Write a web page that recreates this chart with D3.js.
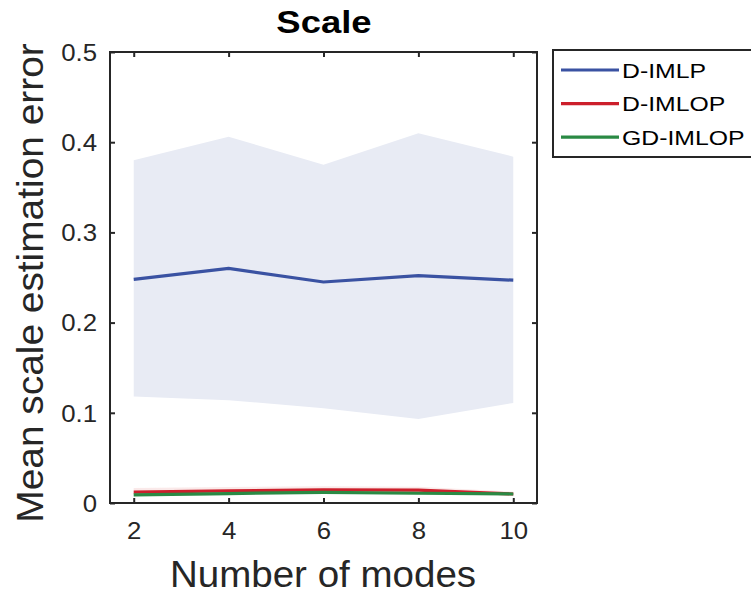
<!DOCTYPE html>
<html>
<head>
<meta charset="utf-8">
<script src="https://cdn.jsdelivr.net/npm/d3@7"></script>
<style>
  html, body { margin: 0; padding: 0; background: #fff; }
  svg { display: block; font-family: "Liberation Sans", Arial, sans-serif; }
</style>
</head>
<body>
<svg id="chart" width="751" height="595"></svg>
<script>
// Number of modes (x values)
const modes = [2, 4, 6, 8, 10];
const xTicks = [2, 4, 6, 8, 10];
const yTicks = [0, 0.1, 0.2, 0.3, 0.4, 0.5];

// Series: mean scale estimation error and spread band
const seriesNames = ["D-IMLP", "D-IMLOP", "GD-IMLOP"];
const dimlpMean  = [0.248, 0.260, 0.245, 0.252, 0.247];
const dimlpUpper = [0.380, 0.406, 0.375, 0.410, 0.384];
const dimlpLower = [0.118, 0.114, 0.105, 0.093, 0.111];

const dimlopMean  = [0.012, 0.0135, 0.0145, 0.0143, 0.0100];
const dimlopUpper = [0.0165, 0.0178, 0.0185, 0.0180, 0.0125];
const dimlopLower = [0.0080, 0.0095, 0.0105, 0.0105, 0.0080];

const gdimlopMean  = [0.0090, 0.0105, 0.0118, 0.0108, 0.0100];
const gdimlopUpper = [0.0105, 0.0120, 0.0130, 0.0122, 0.0110];
const gdimlopLower = [0.0075, 0.0090, 0.0105, 0.0095, 0.0090];

const colors = ["#3a52a2", "#cc1f2b", "#2a8a44"];
const bandColors = ["#e8ebf4", "#f9e3e3", "#e3f1e6"];

const svg = d3.select("#chart");
const plot = { left: 110, right: 537, top: 52, bottom: 503 };

const x = d3.scaleLinear().domain([1.5, 10.5]).range([plot.left, plot.right]);
const y = d3.scaleLinear().domain([0, 0.5]).range([plot.bottom, plot.top]);

// widen text horizontally along its baseline (wide sans face)
function widen(sel, k) {
  sel.each(function () {
    const len = this.getComputedTextLength();
    d3.select(this).attr("textLength", len * k).attr("lengthAdjust", "spacingAndGlyphs");
  });
}

const series = [
  { mean: dimlpMean, upper: dimlpUpper, lower: dimlpLower },
  { mean: dimlopMean, upper: dimlopUpper, lower: dimlopLower },
  { mean: gdimlopMean, upper: gdimlopUpper, lower: gdimlopLower }
];

const area = d3.area()
  .x((d, i) => x(modes[i]))
  .y0(d => y(d[0]))
  .y1(d => y(d[1]));
const line = d3.line()
  .x((d, i) => x(modes[i]))
  .y(d => y(d));

// shaded bands
series.forEach((s, k) => {
  svg.append("path")
    .datum(s.lower.map((v, i) => [v, s.upper[i]]))
    .attr("d", area)
    .attr("fill", bandColors[k])
    .attr("fill-opacity", k === 0 ? 1 : 0.8);
});

// mean lines
series.forEach((s, k) => {
  svg.append("path")
    .datum(s.mean)
    .attr("d", line)
    .attr("fill", "none")
    .attr("stroke", colors[k])
    .attr("stroke-width", 3.2);
});

// axes with inward ticks on all four sides
const axisColor = "#262626";
const tickLen = 5;
const fmtY = d => d === 0 ? "0" : d3.format(".1f")(d);

const gB = svg.append("g").attr("transform", `translate(0,${plot.bottom})`)
  .call(d3.axisBottom(x).tickValues(xTicks).tickSize(-tickLen).tickPadding(0));
const gT = svg.append("g").attr("transform", `translate(0,${plot.top})`)
  .call(d3.axisTop(x).tickValues(xTicks).tickSize(-tickLen).tickFormat(""));
const gL = svg.append("g").attr("transform", `translate(${plot.left},0)`)
  .call(d3.axisLeft(y).tickValues(yTicks).tickSize(-tickLen).tickPadding(13).tickFormat(fmtY));
const gR = svg.append("g").attr("transform", `translate(${plot.right},0)`)
  .call(d3.axisRight(y).tickValues(yTicks).tickSize(-tickLen).tickFormat(""));

[gB, gT, gL, gR].forEach(g => {
  g.select(".domain").remove();
  g.selectAll(".tick line").attr("stroke", axisColor).attr("stroke-width", 2);
  g.selectAll(".tick text")
    .attr("fill", "#262626")
    .style("font-size", "23px")
    .style("font-family", "'Liberation Sans', Arial, sans-serif");
});
gB.selectAll(".tick text").attr("y", 35.5).attr("dy", null);
gL.selectAll(".tick text").attr("dy", "0.36em");
widen(gB.selectAll(".tick text"), 1.12);
widen(gL.selectAll(".tick text"), 1.12);

svg.append("rect")
  .attr("x", plot.left).attr("y", plot.top)
  .attr("width", plot.right - plot.left).attr("height", plot.bottom - plot.top)
  .attr("fill", "none").attr("stroke", axisColor).attr("stroke-width", 2);

// title and axis labels
svg.append("text")
  .attr("x", 324).attr("y", 33)
  .attr("text-anchor", "middle")
  .style("font-size", "32px").style("font-weight", "bold")
  .attr("fill", "#000")
  .text("Scale")
  .call(widen, 1.14);

svg.append("text")
  .attr("x", 323).attr("y", 587)
  .attr("text-anchor", "middle")
  .style("font-size", "36px")
  .attr("fill", "#262626")
  .text("Number of modes")
  .call(widen, 1.07);

svg.append("text")
  .attr("transform", `translate(43,283) rotate(-90)`)
  .attr("text-anchor", "middle")
  .style("font-size", "37px")
  .attr("fill", "#262626")
  .text("Mean scale estimation error")
  .call(widen, 1.05);

// legend
const legend = svg.append("g").attr("transform", "translate(553,50)");
legend.append("rect")
  .attr("x", 0).attr("y", 0).attr("width", 210).attr("height", 107)
  .attr("fill", "#fff").attr("stroke", axisColor).attr("stroke-width", 2);
seriesNames.forEach((name, k) => {
  const ly = 20 + k * 33.6;
  legend.append("line")
    .attr("x1", 8).attr("x2", 66).attr("y1", ly).attr("y2", ly)
    .attr("stroke", colors[k]).attr("stroke-width", 3.2);
  legend.append("text")
    .attr("x", 69).attr("y", ly).attr("dy", "0.36em")
    .style("font-size", "21px")
    .attr("fill", "#000")
    .text(name)
    .call(widen, 1.18);
});
</script>
</body>
</html>
